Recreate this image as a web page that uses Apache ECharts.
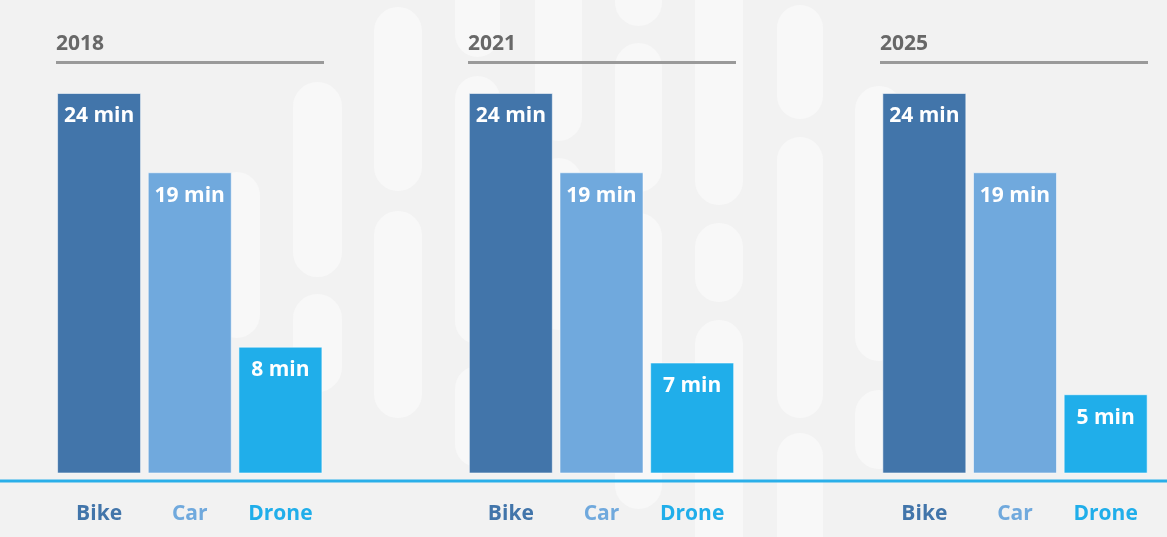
<!DOCTYPE html>
<html>
<head>
<meta charset="utf-8">
<script src="https://cdn.jsdelivr.net/npm/echarts@6/dist/echarts.min.js"></script>
<style>
  html, body { margin: 0; padding: 0; background: #f2f2f2; }
  #chart { width: 1167px; height: 537px; }
</style>
</head>
<body>
<div id="chart"></div>
<script>
// Travel time by mode, one panel per year
const years = ['2018', '2021', '2025'];
const modes = ['Bike', 'Car', 'Drone'];
const bikeMinutes = [24, 24, 24];
const carMinutes = [19, 19, 19];
const droneMinutes = [8, 7, 5];

const modeColors = ['#4275aa', '#70a9dd', '#20aeea'];
const panelLefts = [53.75, 465.5, 879];
const panelWidth = 272;
const font = '"Open Sans", "Noto Sans", sans-serif';

// decorative rounded pills in the background: [x, y, w, h]
const pills = [
  [213, 172, 47, 166],
  [293, 82, 49, 195],
  [293, 294, 49, 98],
  [374, 7, 48, 184],
  [374, 211, 48, 207],
  [455, -60, 45, 117],
  [455, 76, 45, 268],
  [455, 366, 45, 101],
  [535, -60, 47, 201],
  [535, 158, 47, 172],
  [615, -60, 47, 86],
  [615, 43, 47, 149],
  [615, 213, 47, 296],
  [695, -60, 48, 265],
  [695, 223, 48, 79],
  [695, 320, 48, 260],
  [777, 5, 46, 114],
  [777, 137, 46, 281],
  [777, 433, 46, 140],
  [855, 86, 48, 275],
  [855, 390, 48, 79]
];

const chart = echarts.init(document.getElementById('chart'), null, { renderer: 'canvas' });

const grids = [], xAxes = [], yAxes = [], series = [], titles = [], graphics = [];

pills.forEach(p => {
  graphics.push({
    type: 'rect', z: -10, silent: true,
    shape: { x: p[0], y: p[1], width: p[2], height: p[3], r: p[2] / 2 },
    style: { fill: '#f8f8f8' }
  });
});

years.forEach((yr, i) => {
  const left = panelLefts[i];
  grids.push({ left: left, width: panelWidth, top: 93, bottom: 63.5 });
  xAxes.push({
    type: 'category', gridIndex: i, data: modes,
    axisLine: { show: false }, axisTick: { show: false },
    axisLabel: {
      margin: 30, fontFamily: font, fontSize: 21, fontWeight: 'bold',
      color: function (v) { return modeColors[modes.indexOf(v)]; }
    }
  });
  yAxes.push({
    type: 'value', gridIndex: i, min: 0, max: 24,
    show: false, splitLine: { show: false }
  });
  const values = [bikeMinutes[i], carMinutes[i], droneMinutes[i]];
  series.push({
    type: 'bar', xAxisIndex: i, yAxisIndex: i, z: 2,
    barWidth: 84,
    data: values.map((v, k) => ({
      value: v,
      itemStyle: { color: modeColors[k], borderColor: 'rgba(255,255,255,0.55)', borderWidth: 1 }
    })),
    label: {
      show: true, position: 'insideTop', distance: 13,
      formatter: '{c} min', color: '#ffffff',
      fontFamily: font, fontSize: 21, fontWeight: 'bold', lineHeight: 21
    },
    emphasis: { disabled: true }
  });
  const startX = [56, 468, 880][i];
  titles.push({
    text: yr, left: startX, top: 34, padding: 0,
    textStyle: { fontFamily: font, fontSize: 21, fontWeight: 'bold', color: '#686868' }
  });
  graphics.push({
    type: 'line', z: 5, silent: true,
    shape: { x1: startX, y1: 62.5, x2: startX + 268, y2: 62.5 },
    style: { stroke: '#9a9a9a', lineWidth: 3 }
  });
});

// shared baseline across all panels
graphics.push({
  type: 'line', z: 5, silent: true,
  shape: { x1: 0, y1: 481, x2: 1167, y2: 481 },
  style: { stroke: '#2aafe9', lineWidth: 3 }
});

chart.setOption({
  backgroundColor: '#f2f2f2',
  animation: false,
  title: titles,
  grid: grids,
  xAxis: xAxes,
  yAxis: yAxes,
  series: series,
  graphic: { elements: graphics }
});
</script>
</body>
</html>
